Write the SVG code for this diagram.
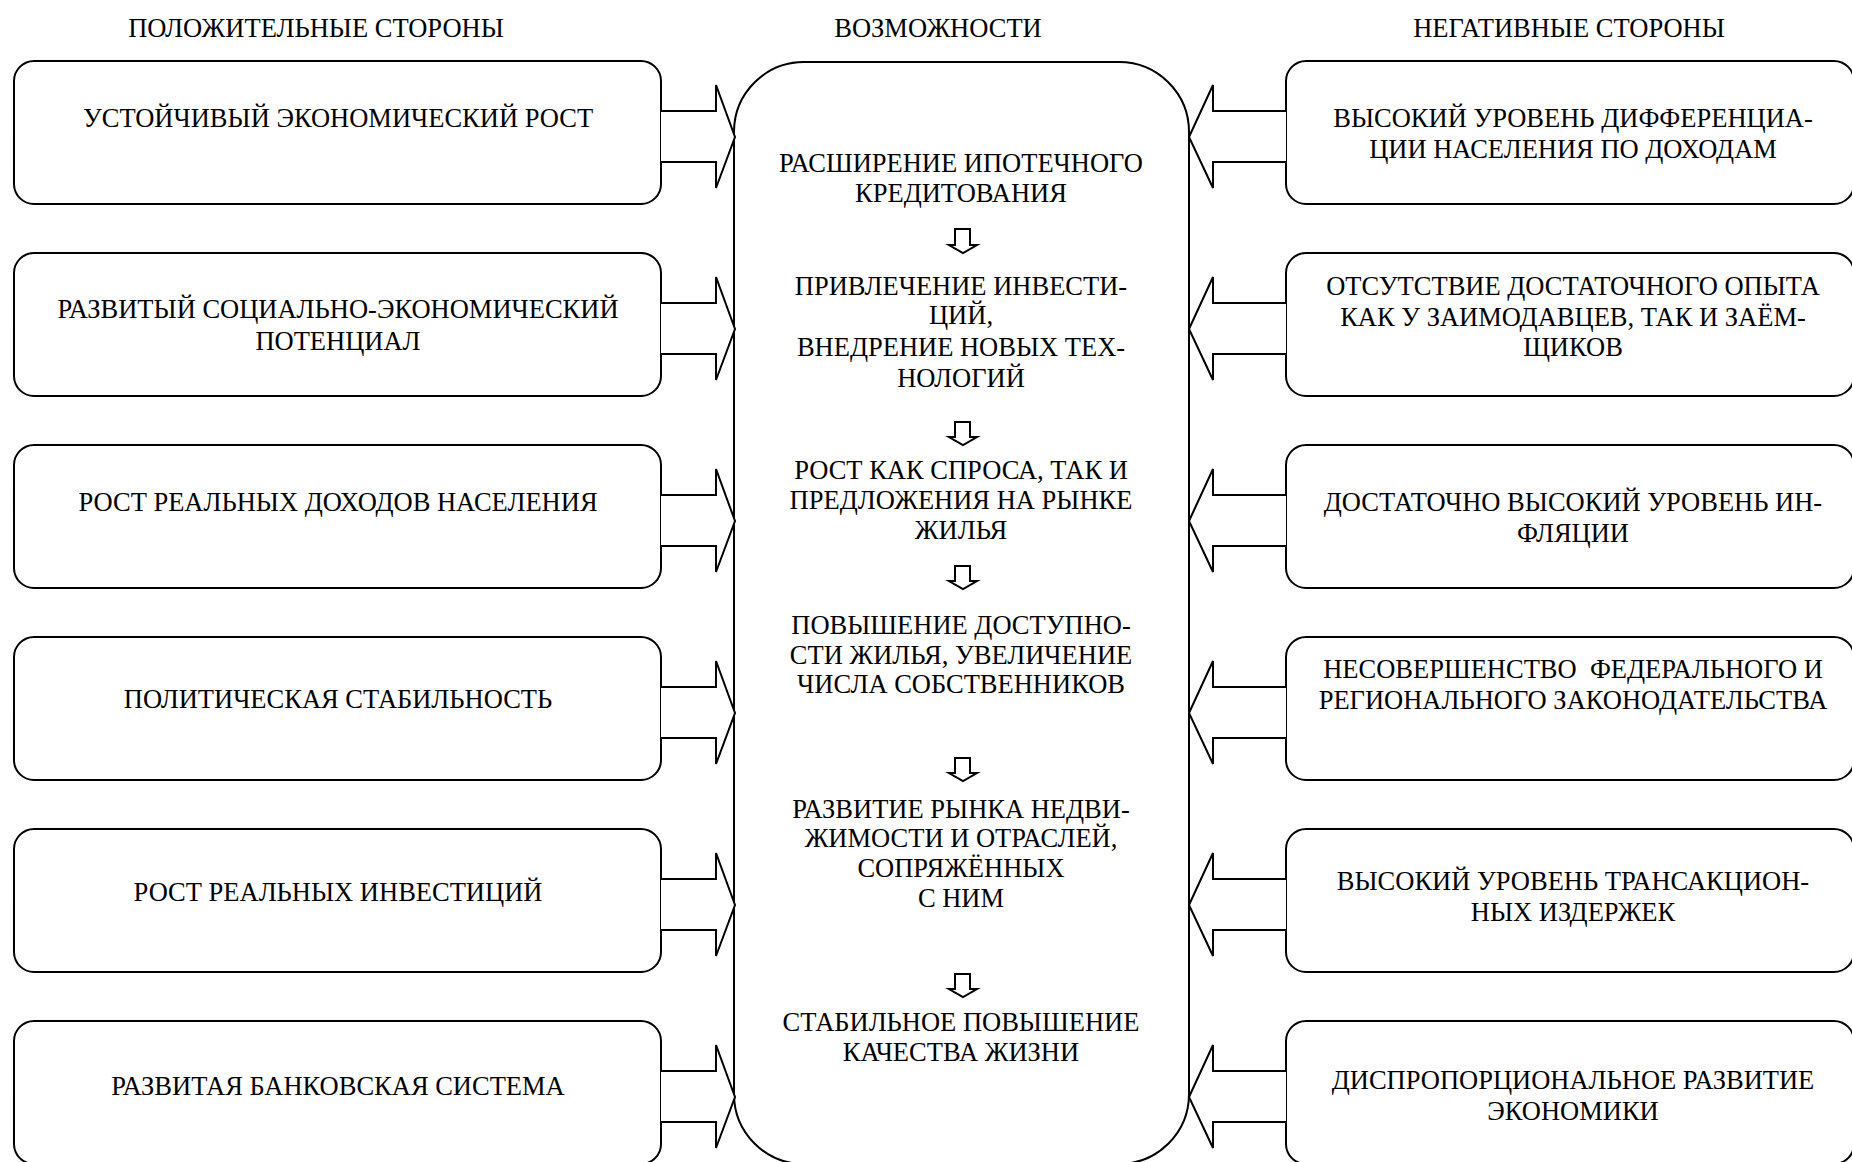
<svg xmlns="http://www.w3.org/2000/svg" width="1852" height="1162" viewBox="0 0 1852 1162">
<style>
.bg{fill:#fff}
.box{fill:#fff;stroke:#000;stroke-width:2}
.arr{fill:#fff;stroke:#000;stroke-width:2;stroke-linejoin:miter}
.sa{fill:#fff;stroke:#000;stroke-width:2;stroke-linejoin:miter}
text{font-family:"Liberation Serif","Times New Roman",serif;font-size:26.5px;fill:#000;text-anchor:middle}
.pre{white-space:pre}
</style>
<rect class="bg" x="0" y="0" width="1852" height="1162"/>
<g id="titles">
<text x="316" y="37">ПОЛОЖИТЕЛЬНЫЕ СТОРОНЫ</text>
<text x="938" y="37">ВОЗМОЖНОСТИ</text>
<text x="1569" y="37">НЕГАТИВНЫЕ СТОРОНЫ</text>
</g>
<g id="center">
<rect class="box" x="734" y="62" width="455" height="1102" rx="70" ry="70"/>
<text x="961" y="172">РАСШИРЕНИЕ ИПОТЕЧНОГО</text>
<text x="961" y="202">КРЕДИТОВАНИЯ</text>
<text x="961" y="295">ПРИВЛЕЧЕНИЕ ИНВЕСТИ-</text>
<text x="961" y="324">ЦИЙ,</text>
<text x="961" y="356">ВНЕДРЕНИЕ НОВЫХ ТЕХ-</text>
<text x="961" y="387">НОЛОГИЙ</text>
<text x="961" y="479">РОСТ КАК СПРОСА, ТАК И</text>
<text x="961" y="509">ПРЕДЛОЖЕНИЯ НА РЫНКЕ</text>
<text x="961" y="539">ЖИЛЬЯ</text>
<text x="961" y="634">ПОВЫШЕНИЕ ДОСТУПНО-</text>
<text x="961" y="664">СТИ ЖИЛЬЯ, УВЕЛИЧЕНИЕ</text>
<text x="961" y="693">ЧИСЛА СОБСТВЕННИКОВ</text>
<text x="961" y="818">РАЗВИТИЕ РЫНКА НЕДВИ-</text>
<text x="961" y="847">ЖИМОСТИ И ОТРАСЛЕЙ,</text>
<text x="961" y="877">СОПРЯЖЁННЫХ</text>
<text x="961" y="907">С НИМ</text>
<text x="961" y="1031">СТАБИЛЬНОЕ ПОВЫШЕНИЕ</text>
<text x="961" y="1061">КАЧЕСТВА ЖИЗНИ</text>
</g>
<g id="left1"><rect class="box" x="14" y="61" width="647" height="143" rx="20" ry="20"/><text x="338" y="127">УСТОЙЧИВЫЙ ЭКОНОМИЧЕСКИЙ РОСТ</text></g>
<g id="left2"><rect class="box" x="14" y="253" width="647" height="143" rx="20" ry="20"/><text x="338" y="318">РАЗВИТЫЙ СОЦИАЛЬНО-ЭКОНОМИЧЕСКИЙ</text><text x="338" y="350">ПОТЕНЦИАЛ</text></g>
<g id="left3"><rect class="box" x="14" y="445" width="647" height="143" rx="20" ry="20"/><text x="338" y="511">РОСТ РЕАЛЬНЫХ ДОХОДОВ НАСЕЛЕНИЯ</text></g>
<g id="left4"><rect class="box" x="14" y="637" width="647" height="143" rx="20" ry="20"/><text x="338" y="708">ПОЛИТИЧЕСКАЯ СТАБИЛЬНОСТЬ</text></g>
<g id="left5"><rect class="box" x="14" y="829" width="647" height="143" rx="20" ry="20"/><text x="338" y="901">РОСТ РЕАЛЬНЫХ ИНВЕСТИЦИЙ</text></g>
<g id="left6"><rect class="box" x="14" y="1021" width="647" height="143" rx="20" ry="20"/><text x="338" y="1095">РАЗВИТАЯ БАНКОВСКАЯ СИСТЕМА</text></g>
<g id="right1"><rect class="box" x="1286" y="61" width="568" height="143" rx="20" ry="20"/><text x="1573" y="127">ВЫСОКИЙ УРОВЕНЬ ДИФФЕРЕНЦИА-</text><text x="1573" y="158">ЦИИ НАСЕЛЕНИЯ ПО ДОХОДАМ</text></g>
<g id="right2"><rect class="box" x="1286" y="253" width="568" height="143" rx="20" ry="20"/><text x="1573" y="295">ОТСУТСТВИЕ ДОСТАТОЧНОГО ОПЫТА</text><text x="1573" y="326">КАК У ЗАИМОДАВЦЕВ, ТАК И ЗАЁМ-</text><text x="1573" y="356">ЩИКОВ</text></g>
<g id="right3"><rect class="box" x="1286" y="445" width="568" height="143" rx="20" ry="20"/><text x="1573" y="511">ДОСТАТОЧНО ВЫСОКИЙ УРОВЕНЬ ИН-</text><text x="1573" y="542">ФЛЯЦИИ</text></g>
<g id="right4"><rect class="box" x="1286" y="637" width="568" height="143" rx="20" ry="20"/><text class="pre" x="1573" y="678">НЕСОВЕРШЕНСТВО  ФЕДЕРАЛЬНОГО И</text><text x="1573" y="709">РЕГИОНАЛЬНОГО ЗАКОНОДАТЕЛЬСТВА</text></g>
<g id="right5"><rect class="box" x="1286" y="829" width="568" height="143" rx="20" ry="20"/><text x="1573" y="890">ВЫСОКИЙ УРОВЕНЬ ТРАНСАКЦИОН-</text><text x="1573" y="921">НЫХ ИЗДЕРЖЕК</text></g>
<g id="right6"><rect class="box" x="1286" y="1021" width="568" height="143" rx="20" ry="20"/><text x="1573" y="1089">ДИСПРОПОРЦИОНАЛЬНОЕ РАЗВИТИЕ</text><text x="1573" y="1120">ЭКОНОМИКИ</text></g>
<g id="connectors">
<path class="arr" d="M661,111 H716 V85 L735,137 L716,188 V162 H661"/>
<path class="arr" d="M661,303 H716 V277 L735,329 L716,380 V354 H661"/>
<path class="arr" d="M661,495 H716 V469 L735,521 L716,572 V546 H661"/>
<path class="arr" d="M661,687 H716 V661 L735,713 L716,764 V738 H661"/>
<path class="arr" d="M661,879 H716 V853 L735,905 L716,956 V930 H661"/>
<path class="arr" d="M661,1071 H716 V1045 L735,1097 L716,1148 V1122 H661"/>
<path class="arr" d="M1286,111 H1213 V85 L1189,137 L1213,188 V162 H1286"/>
<path class="arr" d="M1286,303 H1213 V277 L1189,329 L1213,380 V354 H1286"/>
<path class="arr" d="M1286,495 H1213 V469 L1189,521 L1213,572 V546 H1286"/>
<path class="arr" d="M1286,687 H1213 V661 L1189,713 L1213,764 V738 H1286"/>
<path class="arr" d="M1286,879 H1213 V853 L1189,905 L1213,956 V930 H1286"/>
<path class="arr" d="M1286,1071 H1213 V1045 L1189,1097 L1213,1148 V1122 H1286"/>
<path class="sa" d="M955,229 V245 H949 L963,253 L977,245 H970 V229 Z"/>
<path class="sa" d="M955,422 V437 H949 L963,445 L977,437 H970 V422 Z"/>
<path class="sa" d="M955,566 V581 H949 L963,589 L977,581 H970 V566 Z"/>
<path class="sa" d="M955,758 V773 H949 L963,781 L977,773 H970 V758 Z"/>
<path class="sa" d="M955,974 V989 H949 L963,997 L977,989 H970 V974 Z"/>
</g>
</svg>
